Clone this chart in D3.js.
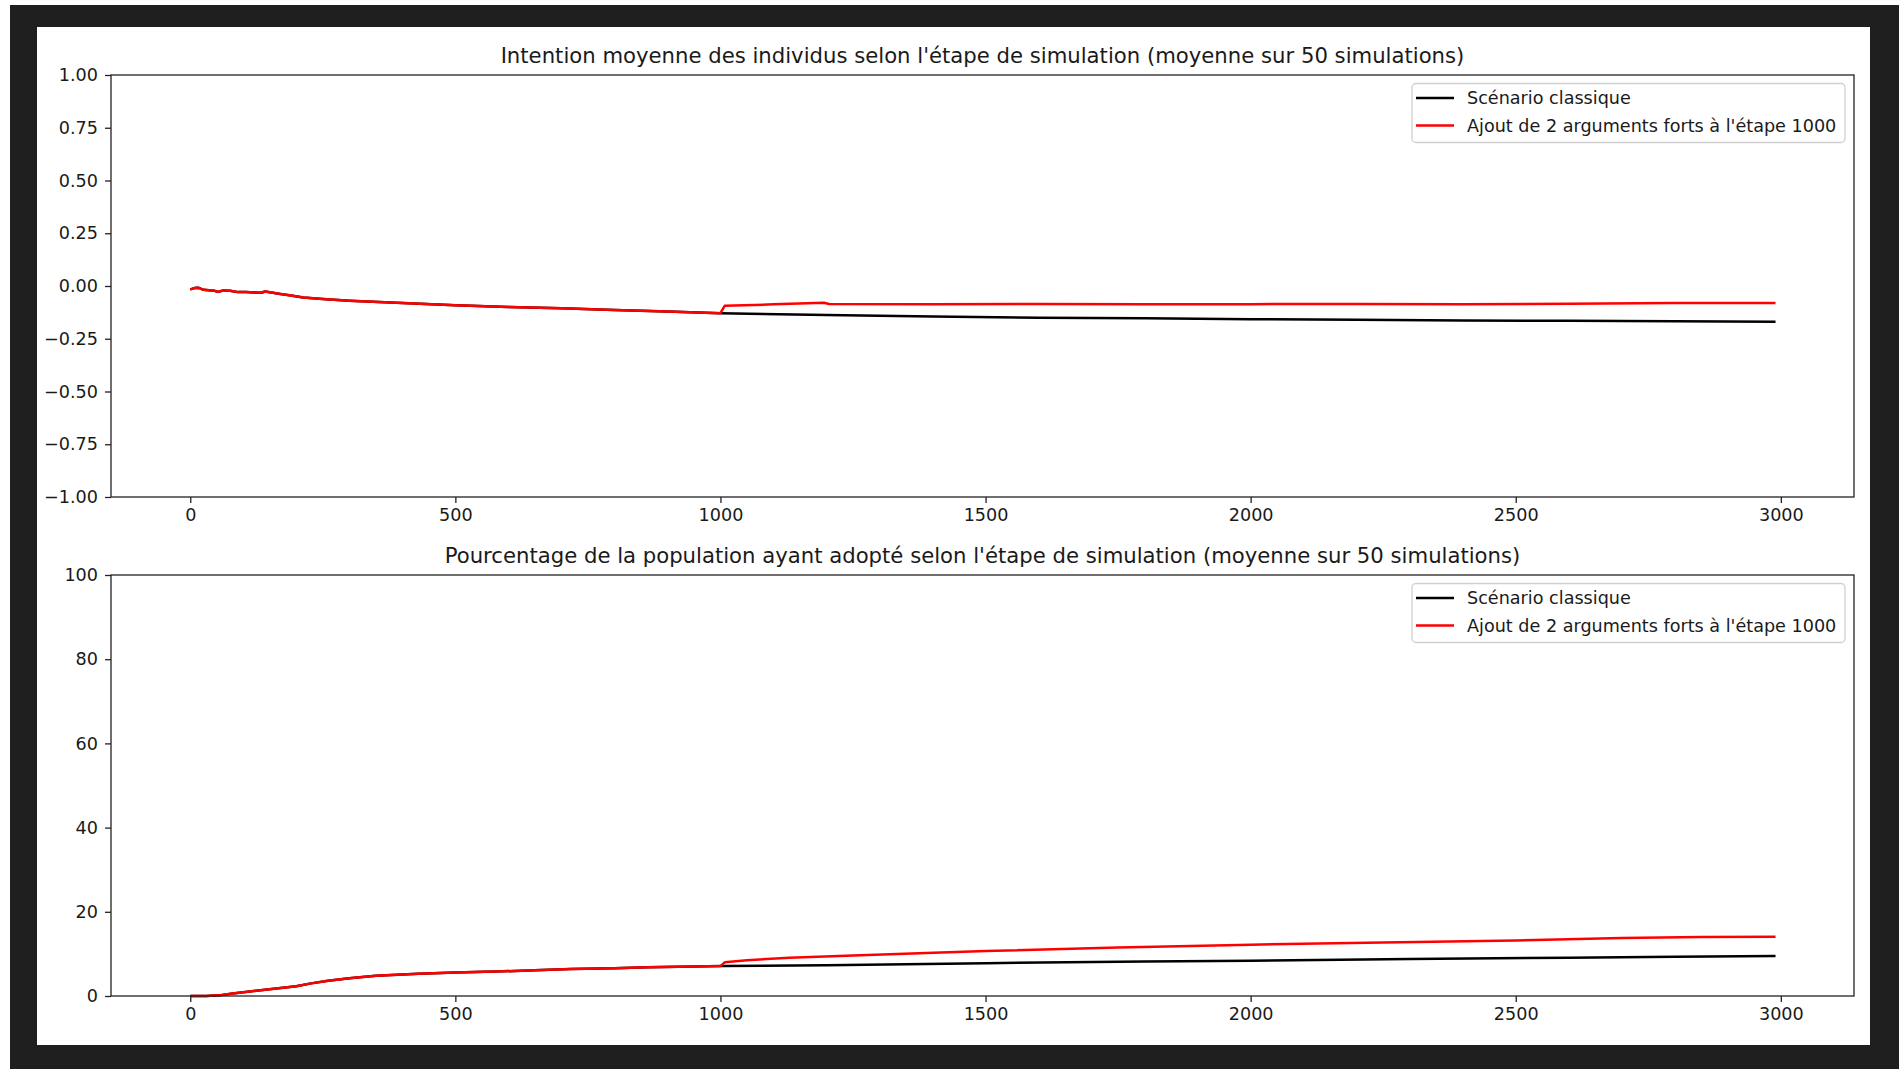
<!DOCTYPE html>
<html>
<head>
<meta charset="utf-8">
<script src="https://cdn.jsdelivr.net/npm/d3@7"></script>
<style>
  body { margin: 0; background: #fff; }
  text { font-family: "DejaVu Sans", sans-serif; fill: #1a1a1a; }
</style>
</head>
<body>
<div id="chart-area"></div>
<script>
// Data
const xTicks = [0, 500, 1000, 1500, 2000, 2500, 3000];
const intentionTicks = [-1, -0.75, -0.5, -0.25, 0, 0.25, 0.5, 0.75, 1];
const adoptionTicks = [0, 20, 40, 60, 80, 100];
const seriesNames = ['Scénario classique', "Ajout de 2 arguments forts à l'étape 1000"];
const titles = [
  "Intention moyenne des individus selon l'étape de simulation (moyenne sur 50 simulations)",
  "Pourcentage de la population ayant adopté selon l'étape de simulation (moyenne sur 50 simulations)"
];

// common part (steps 0 -> 1000), both scenarios identical
const intentionSteps = [0, 8, 15, 25, 35, 45, 52, 62, 75, 90, 105, 120, 134, 141, 150, 170, 190, 213, 250, 300, 400, 500, 600, 700, 800, 900, 1000];
const intentionCommon = [-0.016, -0.01, -0.008, -0.018, -0.02, -0.022, -0.028, -0.021, -0.023, -0.029, -0.028, -0.031, -0.032, -0.026, -0.03, -0.038, -0.045, -0.055, -0.062, -0.07, -0.081, -0.091, -0.099, -0.106, -0.114, -0.121, -0.129];
const adoptionSteps = [0, 30, 54, 80, 141, 200, 228, 260, 300, 350, 430, 500, 574, 650, 718, 800, 863, 950, 1000];
const adoptionCommon = [0, 0, 0.15, 0.6, 1.5, 2.3, 3.0, 3.6, 4.2, 4.8, 5.3, 5.6, 5.8, 6.1, 6.4, 6.6, 6.8, 7.0, 7.1];

// after step 1000
const intentionClassiqueSteps = [1200, 1400, 1600, 1800, 2000, 2200, 2400, 2600, 2800, 2990];
const intentionClassique = [-0.137, -0.145, -0.15, -0.153, -0.157, -0.16, -0.164, -0.165, -0.167, -0.169];
const intentionArgumentsSteps = [1008, 1100, 1195, 1205, 1400, 1600, 1800, 2000, 2200, 2400, 2600, 2800, 2990];
const intentionArguments = [-0.094, -0.087, -0.079, -0.085, -0.086, -0.085, -0.086, -0.086, -0.085, -0.086, -0.084, -0.081, -0.08];

const adoptionClassiqueSteps = [1200, 1500, 1800, 2000, 2300, 2600, 2800, 2990];
const adoptionClassique = [7.3, 7.8, 8.2, 8.4, 8.8, 9.1, 9.3, 9.5];
const adoptionArgumentsSteps = [1008, 1050, 1130, 1250, 1500, 1750, 2000, 2250, 2500, 2700, 2850, 2990];
const adoptionArguments = [8.0, 8.5, 9.1, 9.6, 10.7, 11.5, 12.2, 12.7, 13.2, 13.8, 14.0, 14.1];

function zipSeries(steps, values) {
  return steps.map((s, i) => ({ step: s, value: values[i] }));
}

const intentionSeries = [
  zipSeries(intentionSteps, intentionCommon).concat(zipSeries(intentionClassiqueSteps, intentionClassique)),
  zipSeries(intentionSteps, intentionCommon).concat(zipSeries(intentionArgumentsSteps, intentionArguments))
];
const adoptionSeries = [
  zipSeries(adoptionSteps, adoptionCommon).concat(zipSeries(adoptionClassiqueSteps, adoptionClassique)),
  zipSeries(adoptionSteps, adoptionCommon).concat(zipSeries(adoptionArgumentsSteps, adoptionArguments))
];
const colors = ['#000000', '#ff0000'];

// Page
const W = 1899, H = 1069;
const svg = d3.select('#chart-area').append('svg')
  .attr('width', W)
  .attr('height', H);

svg.append('rect').attr('width', W).attr('height', H).attr('fill', '#fff');
// dark frame around the figure
svg.append('rect')
  .attr('x', 10).attr('y', 5)
  .attr('width', W - 10).attr('height', H - 5)
  .attr('fill', '#1f1f1f');
svg.append('rect')
  .attr('x', 37).attr('y', 27)
  .attr('width', 1833).attr('height', 1018)
  .attr('fill', '#fff');

const left = 111, right = 1854;
const x = d3.scaleLinear().domain([-149.5, 3138]).range([left, right]);

function drawPanel(top, bottom, yDomain, yTicks, yFormat, series, title) {
  const y = d3.scaleLinear().domain(yDomain).range([bottom, top]);
  const g = svg.append('g');

  // title
  g.append('text')
    .attr('x', (left + right) / 2)
    .attr('y', top - 12)
    .attr('text-anchor', 'middle')
    .attr('font-size', '21.2px')
    .text(title);

  // lines
  const line = d3.line()
    .x((d) => x(d.step))
    .y((d) => y(d.value));
  series.forEach((s, i) => {
    g.append('path')
      .datum(s)
      .attr('fill', 'none')
      .attr('stroke', colors[i])
      .attr('stroke-width', 2.5)
      .attr('stroke-linejoin', 'round')
      .attr('d', line);
  });

  // x axis
  const xAxis = g.append('g')
    .attr('transform', 'translate(0, ' + bottom + ')')
    .call(d3.axisBottom(x).tickValues(xTicks).tickSize(6).tickPadding(6).tickFormat(d3.format('d')));
  // y axis
  const yAxis = g.append('g')
    .attr('transform', 'translate(' + left + ', 0)')
    .call(d3.axisLeft(y).tickValues(yTicks).tickSize(6).tickPadding(7).tickFormat(yFormat));

  [xAxis, yAxis].forEach((a) => {
    a.select('.domain').remove();
    a.selectAll('line').attr('stroke', '#222').attr('stroke-width', 1.3);
    a.selectAll('text')
      .attr('font-size', '17.6px')
      .attr('font-family', '"DejaVu Sans", sans-serif')
      .attr('fill', '#1a1a1a');
  });

  // frame
  g.append('rect')
    .attr('x', left).attr('y', top)
    .attr('width', right - left).attr('height', bottom - top)
    .attr('fill', 'none')
    .attr('stroke', '#222')
    .attr('stroke-width', 1.3);

  // legend
  const lg = g.append('g').attr('transform', 'translate(1412, ' + (top + 8.5) + ')');
  lg.append('rect')
    .attr('width', 433).attr('height', 59)
    .attr('rx', 4)
    .attr('fill', '#fff').attr('fill-opacity', 0.8)
    .attr('stroke', '#d0d0d0').attr('stroke-width', 1.3);
  seriesNames.forEach((name, i) => {
    const row = lg.append('g').attr('transform', 'translate(0, ' + (14.5 + i * 27.5) + ')');
    row.append('line')
      .attr('x1', 4).attr('x2', 42)
      .attr('stroke', colors[i]).attr('stroke-width', 2.5);
    row.append('text')
      .attr('x', 55).attr('y', 6)
      .attr('font-size', '17.6px')
      .text(name);
  });
}

drawPanel(75, 497, [-1, 1], intentionTicks, d3.format('.2f'), intentionSeries, titles[0]);
drawPanel(575, 996, [0, 100], adoptionTicks, d3.format('d'), adoptionSeries, titles[1]);
</script>
</body>
</html>
